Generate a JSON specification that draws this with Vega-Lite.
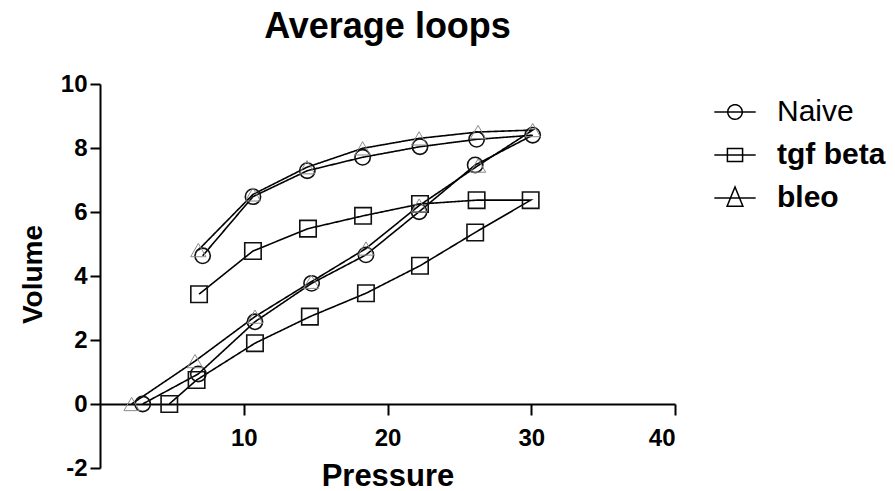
{
  "$schema": "https://vega.github.io/schema/vega-lite/v6.json",
  "width": 575,
  "height": 384,
  "autosize": {"type": "none"},
  "padding": {"left": 100, "top": 84, "right": 220, "bottom": 23},
  "title": {"text": "Average loops", "fontSize": 36, "font": "Liberation Sans", "fontWeight": "bold", "color": "#000", "anchor": "middle", "baseline": "alphabetic", "offset": -2},
  "data": {"values": [
    {"g": "Naive", "i": 1, "p": 2.97, "v": 0},
    {"g": "Naive", "i": 2, "p": 6.84, "v": 0.94},
    {"g": "Naive", "i": 3, "p": 10.78, "v": 2.57},
    {"g": "Naive", "i": 4, "p": 14.72, "v": 3.77},
    {"g": "Naive", "i": 5, "p": 18.5, "v": 4.66},
    {"g": "Naive", "i": 6, "p": 22.2, "v": 6.01},
    {"g": "Naive", "i": 7, "p": 26.1, "v": 7.47},
    {"g": "Naive", "i": 8, "p": 30.1, "v": 8.4},
    {"g": "Naive", "i": 9, "p": 26.2, "v": 8.27},
    {"g": "Naive", "i": 10, "p": 22.26, "v": 8.04},
    {"g": "Naive", "i": 11, "p": 18.27, "v": 7.71},
    {"g": "Naive", "i": 12, "p": 14.42, "v": 7.29},
    {"g": "Naive", "i": 13, "p": 10.64, "v": 6.48},
    {"g": "Naive", "i": 14, "p": 7.14, "v": 4.63},
    {"g": "tgf beta", "i": 1, "p": 4.82, "v": 0},
    {"g": "tgf beta", "i": 2, "p": 6.72, "v": 0.75},
    {"g": "tgf beta", "i": 3, "p": 10.78, "v": 1.9},
    {"g": "tgf beta", "i": 4, "p": 14.6, "v": 2.73},
    {"g": "tgf beta", "i": 5, "p": 18.5, "v": 3.46},
    {"g": "tgf beta", "i": 6, "p": 22.26, "v": 4.32},
    {"g": "tgf beta", "i": 7, "p": 26.1, "v": 5.36},
    {"g": "tgf beta", "i": 8, "p": 29.96, "v": 6.37},
    {"g": "tgf beta", "i": 9, "p": 26.2, "v": 6.37},
    {"g": "tgf beta", "i": 10, "p": 22.26, "v": 6.25},
    {"g": "tgf beta", "i": 11, "p": 18.3, "v": 5.88},
    {"g": "tgf beta", "i": 12, "p": 14.47, "v": 5.48},
    {"g": "tgf beta", "i": 13, "p": 10.64, "v": 4.78},
    {"g": "tgf beta", "i": 14, "p": 6.89, "v": 3.43},
    {"g": "bleo", "i": 1, "p": 2.2, "v": 0},
    {"g": "bleo", "i": 2, "p": 6.61, "v": 1.34},
    {"g": "bleo", "i": 3, "p": 10.78, "v": 2.73},
    {"g": "bleo", "i": 4, "p": 14.7, "v": 3.82},
    {"g": "bleo", "i": 5, "p": 18.5, "v": 4.86},
    {"g": "bleo", "i": 6, "p": 22.2, "v": 6.2},
    {"g": "bleo", "i": 7, "p": 26.3, "v": 7.45},
    {"g": "bleo", "i": 8, "p": 30.1, "v": 8.56},
    {"g": "bleo", "i": 9, "p": 26.3, "v": 8.5},
    {"g": "bleo", "i": 10, "p": 22.2, "v": 8.3},
    {"g": "bleo", "i": 11, "p": 18.27, "v": 7.99},
    {"g": "bleo", "i": 12, "p": 14.4, "v": 7.4},
    {"g": "bleo", "i": 13, "p": 10.64, "v": 6.55},
    {"g": "bleo", "i": 14, "p": 6.84, "v": 4.81}
  ]},
  "encoding": {
    "x": {"field": "p", "type": "quantitative", "scale": {"domain": [0, 40], "nice": false, "zero": false},
      "axis": {"title": "Pressure", "values": [10, 20, 30, 40], "offset": -64, "tickSize": 11, "labelPadding": 11,
        "titleY": 81, "titleBaseline": "alphabetic", "titleFontSize": 31}},
    "y": {"field": "v", "type": "quantitative", "scale": {"domain": [-2, 10], "nice": false, "zero": false},
      "axis": {"title": "Volume", "values": [-2, 0, 2, 4, 6, 8, 10], "labelExpr": "'' + datum.value", "tickSize": 10, "labelPadding": 3,
        "titleX": -59, "titleY": 190, "titleBaseline": "alphabetic", "titleAngle": -90, "titleFontSize": 28}}
  },
  "layer": [
    {
      "mark": {"type": "line", "color": "#000", "strokeWidth": 1.6},
      "encoding": {
        "order": {"field": "i", "type": "quantitative"},
        "strokeDash": {"field": "g", "type": "nominal",
          "scale": {"domain": ["Naive", "tgf beta", "bleo"], "range": [[1, 0], [1, 0], [1, 0]]},
          "legend": {"title": null, "orient": "none", "legendX": 620, "legendY": 13, "padding": 0,
            "symbolSize": 190, "symbolStrokeColor": "#000", "symbolFillColor": "transparent", "symbolStrokeWidth": 1.5, "symbolOpacity": 1,
            "symbolType": {"expr": "datum.value == 'Naive' ? 'M-3,0H3M1.05,0A1.05,1.05 0 1,1 -1.05,0A1.05,1.05 0 1,1 1.05,0Z' : datum.value == 'tgf beta' ? 'M-3,0H3M-1.1,-0.95H1.1V0.95H-1.1Z' : 'M-3,0H3M0,-1.6L1.15,1.2H-1.15Z'"},
            "labelOffset": 27, "rowPadding": 13, "labelFontSize": 30, "labelFont": "Liberation Sans", "labelColor": "#000", "labelLimit": 300,
            "labelFontWeight": {"expr": "datum.label == 'Naive' ? 'normal' : 'bold'"}}}
      }
    },
    {
      "mark": {"type": "point", "filled": false, "fill": null, "opacity": 1},
      "encoding": {
        "shape": {"condition": [{"test": "datum.g == 'Naive'", "value": "circle"}, {"test": "datum.g == 'tgf beta'", "value": "square"}], "value": "triangle-up"},
        "stroke": {"condition": {"test": "datum.g == 'bleo'", "value": "#8a8a8a"}, "value": "#111111"},
        "strokeWidth": {"condition": {"test": "datum.g == 'bleo'", "value": 1}, "value": 1.6},
        "size": {"condition": {"test": "datum.g == 'tgf beta'", "value": 270}, "value": 235}
      }
    }
  ],
  "config": {
    "view": {"stroke": null},
    "font": "Liberation Sans",
    "axis": {"grid": false, "domainColor": "#000", "domainWidth": 2, "tickColor": "#000", "tickWidth": 2,
      "labelFont": "Liberation Sans", "labelFontSize": 24, "labelFontWeight": "bold", "labelColor": "#000",
      "titleFont": "Liberation Sans", "titleFontWeight": "bold", "titleColor": "#000"}
  }
}
